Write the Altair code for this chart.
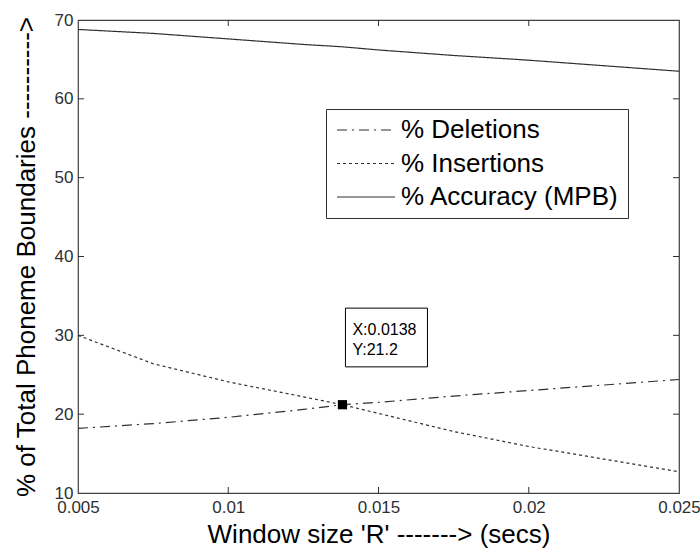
import altair as alt
import pandas as pd

# ---- data ----
window_r = [0.005, 0.0075, 0.01, 0.0125, 0.0138, 0.015, 0.0175, 0.02, 0.0225, 0.025]
deletions = [18.2, 18.8, 19.6, 20.6, 21.2, 21.5, 22.3, 23.0, 23.7, 24.4]
insertions = [30.0, 26.4, 24.1, 22.2, 21.2, 20.1, 17.8, 15.9, 14.3, 12.7]
accuracy = [68.8, 68.3, 67.6, 66.9, 66.6, 66.2, 65.5, 64.9, 64.2, 63.5]

series_names = ["% Deletions", "% Insertions", "% Accuracy (MPB)"]
series_dash = [[10, 5, 2, 5], [3, 3], [1, 0]]

x_ticks = [0.005, 0.01, 0.015, 0.02, 0.025]
y_ticks = [10, 20, 30, 40, 50, 60, 70]
inner_x_ticks = [0.01, 0.015, 0.02]
inner_y_ticks = [20, 30, 40, 50, 60]

tip_x = [0.0138]
tip_y = [21.2]
tip_lines = ["X:0.0138", "Y:21.2"]
tip_text_y = [30.7, 28.2]
tip_box_x = [0.0139, 0.01663]
tip_box_y = [26.0, 33.45]

W, H = 601, 473
FONT = "Liberation Sans"
INK = "#303030"

rows = []
for name, vals in zip(series_names, [deletions, insertions, accuracy]):
    for x, v in zip(window_r, vals):
        rows.append({"R": x, "pct": v, "series": name})
df = pd.DataFrame(rows)

xscale = alt.Scale(domain=[0.005, 0.025], nice=False, zero=False)
yscale = alt.Scale(domain=[10, 70], nice=False, zero=False)

xaxis = alt.Axis(values=x_ticks, format="~g", tickSize=0, labelPadding=6,
                 labelFontSize=17, labelFont=FONT, labelColor=INK, labelFlush=False,
                 grid=False, domain=False, title="Window size 'R' -------> (secs)",
                 titleFontSize=26, titleFont=FONT, titleFontWeight="normal",
                 titleColor="#000", titlePadding=6)
yaxis = alt.Axis(values=y_ticks, tickSize=0, labelPadding=5,
                 labelFontSize=17, labelFont=FONT, labelColor=INK,
                 grid=False, domain=False,
                 title="% of Total Phoneme Boundaries ---------->",
                 titleFontSize=26, titleFont=FONT, titleFontWeight="normal",
                 titleColor="#000", titlePadding=15)

lines = alt.Chart(df).mark_line(color=INK, strokeWidth=1.2).encode(
    x=alt.X("R:Q", scale=xscale, axis=xaxis),
    y=alt.Y("pct:Q", scale=yscale, axis=yaxis),
    strokeDash=alt.StrokeDash(
        "series:N",
        scale=alt.Scale(domain=series_names, range=series_dash),
        sort=series_names,
        legend=alt.Legend(
            title=None, orient="none", legendX=248, legendY=89,
            symbolType="M-2.9,0H2.9", symbolSize=400, symbolStrokeWidth=1.2,
            symbolStrokeColor=INK, symbolOffset=19,
            labelFontSize=26, labelFont=FONT,
            labelColor="#000", labelOffset=22, rowPadding=7.5, padding=8,
            strokeColor=INK, fillColor="white", labelLimit=400,
        ),
    ),
    detail="series:N",
)

xt = pd.DataFrame({"v": inner_x_ticks})
yt = pd.DataFrame({"v": inner_y_ticks})
tick_style = dict(color=INK, strokeWidth=1)
xt_bottom = alt.Chart(xt).mark_rule(**tick_style).encode(
    x=alt.X("v:Q", scale=xscale), y=alt.value(H), y2=alt.value(H - 6))
xt_top = alt.Chart(xt).mark_rule(**tick_style).encode(
    x=alt.X("v:Q", scale=xscale), y=alt.value(0), y2=alt.value(6))
yt_left = alt.Chart(yt).mark_rule(**tick_style).encode(
    y=alt.Y("v:Q", scale=yscale), x=alt.value(0), x2=alt.value(6))
yt_right = alt.Chart(yt).mark_rule(**tick_style).encode(
    y=alt.Y("v:Q", scale=yscale), x=alt.value(W), x2=alt.value(W - 6))

marker = alt.Chart(pd.DataFrame({"x": tip_x, "y": tip_y})).mark_square(
    size=85, color="black", opacity=1, filled=True).encode(
    x=alt.X("x:Q", scale=xscale), y=alt.Y("y:Q", scale=yscale))

box = alt.Chart(pd.DataFrame({"x": [tip_box_x[0]], "x2": [tip_box_x[1]],
                              "y": [tip_box_y[0]], "y2": [tip_box_y[1]]})).mark_rect(
    fill="white", stroke="#000", strokeWidth=1).encode(
    x=alt.X("x:Q", scale=xscale), x2="x2:Q",
    y=alt.Y("y:Q", scale=yscale), y2="y2:Q")

tip_text = alt.Chart(pd.DataFrame({"t": tip_lines, "x": [tip_box_x[0]] * 2,
                                   "y": tip_text_y})).mark_text(
    align="left", baseline="middle", dx=7, fontSize=16, font=FONT, color="#000").encode(
    x=alt.X("x:Q", scale=xscale), y=alt.Y("y:Q", scale=yscale), text="t:N")

chart = alt.layer(
    lines, xt_bottom, xt_top, yt_left, yt_right, box, tip_text, marker
).properties(
    width=W, height=H,
    autosize=alt.AutoSizeParams(type="none"),
    padding={"left": 78, "top": 20, "right": 21, "bottom": 59},
    background="white",
).configure_view(stroke="#404040", strokeWidth=1.2)

chart.save("out.html", embed_options={"renderer": "svg", "actions": False})
